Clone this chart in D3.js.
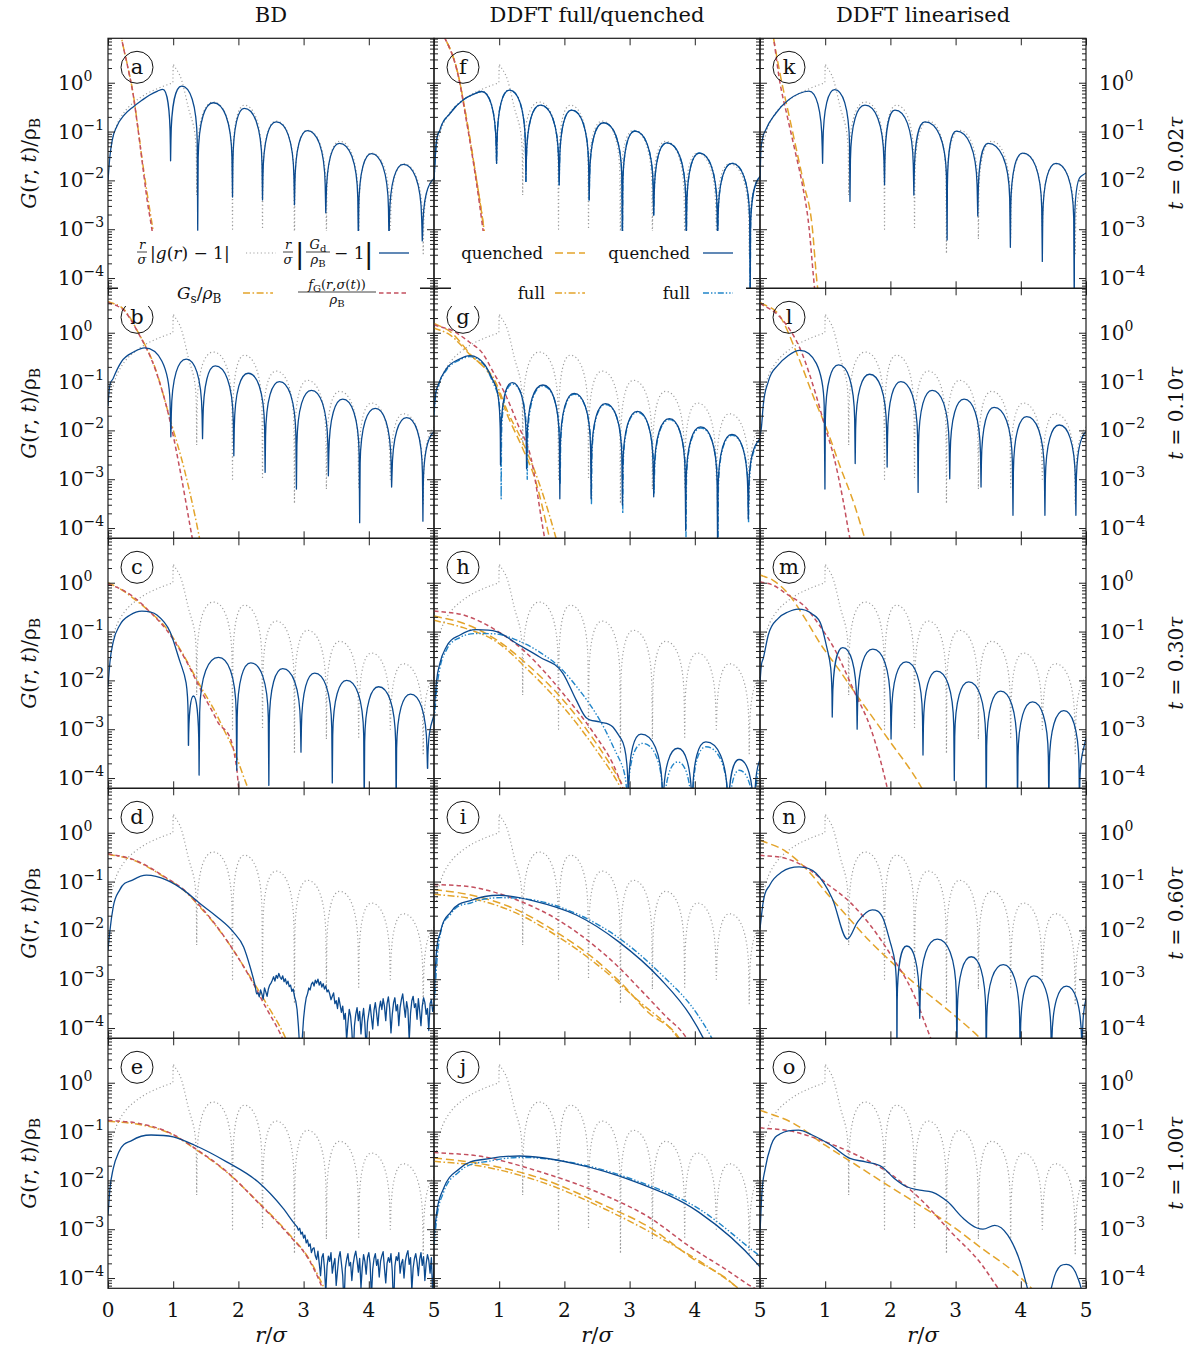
<!DOCTYPE html>
<html><head><meta charset="utf-8">
<script src="https://cdn.jsdelivr.net/npm/d3@7"></script>
<style>body{margin:0;background:#fff}svg{display:block}text{font-family:"DejaVu Serif","Liberation Serif",serif;fill:#111}</style>
</head><body><svg id="c" width="1197" height="1351"></svg>
<script>
// ---------- DATA (r/sigma, log10 of value, flag: 1 = cusp/zero crossing, 2 = corner, 3 = noisy sample) ----------
const columnTitles = ["BD", "DDFT full/quenched", "DDFT linearised"];
const timeLabels = ["0.02", "0.10", "0.30", "0.60", "1.00"];
const panelLetters = ["a","b","c","d","e","f","g","h","i","j","k","l","m","n","o"];
const xTickValues = [0,1,2,3,4,5];
const yTickExponents = [0,-1,-2,-3,-4];

// r |g(r)-1| (grey dotted, same in every panel)
const gDotted = [[0.04,-1.4],[0.06,-1.22],[0.1,-1],[0.15,-0.82],[0.2,-0.7],[0.3,-0.52],[0.4,-0.4],[0.5,-0.3],[0.6,-0.22],[0.7,-0.155],[0.8,-0.097],[0.9,-0.046],[0.995,0,2],[1.0,0.38,2],[1.13,0.05],[1.23,-0.5],[1.36,-2.3,1],[1.615,-0.395],[1.91,-3.0,1],[2.09,-0.46],[2.37,-3.0,1],[2.58,-0.785],[2.86,-3.5,1],[3.06,-0.975],[3.35,-3.2,1],[3.55,-1.2],[3.845,-3.2,1],[4.04,-1.44],[4.33,-3.0,1],[4.53,-1.66],[4.835,-3.5,1],[5.03,-1.9],[5.1,-1.85]];

// ---- BD column ----
const aBlue = [[0.0,-2.0],[0.03,-1.5],[0.066,-1.17],[0.133,-0.9],[0.25,-0.66],[0.39,-0.49],[0.52,-0.36],[0.64,-0.25],[0.76,-0.17],[0.84,-0.135],[0.96,-1.6,1],[1.13,-0.07],[1.376,-3.02,1],[1.615,-0.41],[1.91,-2.34,1],[2.09,-0.525],[2.37,-2.4,1],[2.58,-0.80],[2.86,-2.5,1],[3.057,-0.98],[3.34,-2.66,1],[3.55,-1.24],[3.84,-3.3,1],[4.04,-1.45],[4.31,-3.3,1],[4.53,-1.67],[4.82,-3.24,1],[5.0,-1.96],[5.05,-1.9]];
const aOrange = [[0.1,1.9],[0.21,0.906],[0.3,0.35],[0.389,-0.25],[0.46,-0.93],[0.532,-1.65],[0.61,-2.35],[0.69,-3.02],[0.78,-3.9],[0.85,-4.6]];
const aRed = [[0.1,1.9],[0.21,0.9],[0.3,0.34],[0.389,-0.27],[0.46,-0.95],[0.532,-1.7],[0.6,-2.4],[0.675,-3.02],[0.76,-3.9],[0.83,-4.6]];

const bBlue = [[0.0,-1.5],[0.02,-1.15],[0.078,-0.94],[0.207,-0.59],[0.40,-0.39],[0.56,-0.31],[0.964,-2.13,1],[1.2,-0.54],[1.45,-2.17,1],[1.644,-0.68],[1.93,-2.52,1],[2.15,-0.83],[2.41,-2.86,1],[2.63,-1.0],[2.89,-3.2,1],[3.12,-1.18],[3.38,-2.93,1],[3.6,-1.36],[3.86,-3.89,1],[4.1,-1.55],[4.35,-3.16,1],[4.58,-1.74],[4.83,-3.86,1],[5.0,-2.03],[5.05,-1.98]];
const bOrange = [[0,0.64],[0.25,0.47],[0.47,-0.01],[0.725,-0.73],[0.95,-1.76],[1.18,-2.85],[1.385,-4.08],[1.5,-4.9]];
const bRed = [[0,0.62],[0.25,0.45],[0.47,-0.02],[0.725,-0.75],[0.95,-1.8],[1.11,-2.85],[1.275,-4.08],[1.4,-5]];

const cBlue = [[0.0,-2.13],[0.03,-1.62],[0.08,-1.21],[0.18,-0.87],[0.34,-0.66],[0.52,-0.58],[0.75,-0.66],[0.95,-1.0],[1.105,-1.62],[1.233,-3.33,1],[1.31,-2.32],[1.397,-3.94,1],[1.694,-1.53],[1.975,-3.84,1],[2.19,-1.64],[2.467,-4.15,1],[2.68,-1.76],[2.96,-3.47,1],[3.17,-1.85],[3.44,-4.1,1],[3.66,-2.0],[3.93,-4.6,1],[4.15,-2.13],[4.42,-4.6,1],[4.64,-2.28],[4.9,-3.8,1],[5.0,-2.71],[5.05,-2.5]];
const cOrange = [[0,0.0],[0.18,-0.12],[0.39,-0.32],[0.645,-0.6],[0.9,-0.94],[1.157,-1.48],[1.41,-2.1],[1.67,-2.71],[1.77,-2.99],[1.92,-3.4],[2.13,-4.15],[2.3,-4.7]];
const cRed = [[0,-0.03],[0.18,-0.12],[0.39,-0.29],[0.645,-0.6],[0.9,-0.97],[1.157,-1.5],[1.464,-2.3],[1.67,-2.82],[1.975,-3.81],[2.0,-4.15],[2.1,-4.7]];

const dBlue = [[0.0,-2.4],[0.03,-2.0],[0.08,-1.52],[0.18,-1.17],[0.39,-0.96],[0.59,-0.87],[0.9,-0.97],[1.156,-1.17],[1.41,-1.45],[1.67,-1.72],[1.92,-2.03],[2.08,-2.34],[2.18,-2.75],[2.26,-3.16],[2.28,-3.3]];
const noiseStep = 0.02;
const dNoiseStart = 2.30;
const dNoise = [-3.28,-3.36,-3.22,-3.30,-3.41,-3.18,-3.26,-3.35,-3.20,-3.12,
 -3.08,-3.02,-2.95,-3.04,-2.92,-2.98,-2.88,-2.96,-3.00,-2.93,-3.05,-2.99,-3.10,-3.04,-3.15,
 -3.12,-3.25,-3.20,-3.35,-3.45,-3.62,
 -3.95,-4.40,-4.70,-4.20,-3.80,
 -3.55,-3.38,-3.30,-3.18,-3.22,-3.10,
 -3.06,-3.14,-3.02,-3.08,-3.00,-3.12,-3.05,-3.16,-3.09,-3.20,-3.14,-3.26,-3.22,
 -3.30,-3.42,-3.35,-3.28,-3.50,-3.44,-3.60,-3.38,-3.52,-3.68,
 -3.55,-3.82,-3.70,-4.25,-3.90,-3.62,-3.75,-4.05,-4.60,-3.95,-3.72,-3.58,-3.85,-3.66,-4.12,-3.80,-3.60,-3.92,-4.45,-3.88,-3.70,-3.52,-3.78,-4.02,-3.64,-3.48,-3.70,-3.95,-3.60,-3.45,
 -3.62,-3.40,-3.55,-3.85,-3.50,-3.36,-3.60,-4.10,-3.72,-3.48,-3.38,-3.65,-3.52,-3.95,-3.58,-3.42,-3.30,-3.55,-3.78,-3.46,-3.62,-4.25,-3.70,-3.44,-3.35,-3.58,-3.50,-3.82,-3.40,-3.65,-3.95,-3.55,-3.38,-3.48,-3.72,-3.60,-4.05,-3.50,-3.42,-3.66,-3.55];
const dOrange = [[0,-0.44],[0.39,-0.56],[0.9,-0.94],[1.156,-1.17],[1.41,-1.52],[1.67,-1.93],[1.92,-2.4],[2.18,-2.95],[2.43,-3.5],[2.69,-4.11],[2.85,-4.6]];
const dRed = [[0,-0.43],[0.39,-0.55],[0.9,-0.93],[1.156,-1.16],[1.41,-1.5],[1.67,-1.92],[1.92,-2.4],[2.18,-2.97],[2.43,-3.6],[2.64,-4.11],[2.8,-4.6]];

const eBlue = [[0.0,-2.71],[0.03,-2.17],[0.08,-1.76],[0.17,-1.41],[0.37,-1.18],[0.66,-1.07],[1.0,-1.11],[1.33,-1.28],[1.82,-1.62],[2.3,-2.03],[2.69,-2.58],[2.88,-2.92]];
const eNoiseStart = 2.90;
const eNoise = [-2.95,-3.02,-2.98,-3.10,-3.06,-3.18,-3.12,-3.28,-3.22,-3.35,-3.30,-3.48,-3.40,-3.38,-3.55,
 -3.62,-3.45,-3.70,-3.95,-3.58,-3.50,-3.80,-4.30,-3.75,-3.55,
 -3.66,-3.48,-3.90,-3.72,-3.60,-4.15,-3.85,-3.58,-3.46,-3.70,
 -3.95,-4.55,-3.80,-3.62,-3.50,-3.75,-3.68,-4.05,-3.72,-3.55,
 -3.45,-3.64,-3.88,-3.60,-4.20,-3.78,-3.52,-3.66,-3.92,-3.58,
 -3.48,-3.70,-4.40,-3.82,-3.60,-3.50,-3.74,-3.62,-3.98,-3.66,
 -3.54,-3.46,-3.80,-4.10,-3.70,-3.58,-3.68,-3.50,-3.86,-4.60,
 -3.76,-3.56,-3.64,-3.48,-3.90,-3.70,-3.62,-4.00,-3.66,-3.52,
 -3.44,-3.72,-3.58,-4.25,-3.80,-3.60,-3.50,-3.68,-3.95,-3.62,
 -3.48,-3.74,-3.56,-4.05,-3.70,-3.52,-3.64,-3.90,-3.58,-4.35,-3.70];
const eOrange = [[0,-0.79],[0.46,-0.85],[1.0,-1.07],[1.33,-1.35],[1.82,-1.83],[2.3,-2.44],[2.79,-3.12],[3.08,-3.6],[3.27,-4.08],[3.45,-4.6]];
const eRed = [[0,-0.77],[0.46,-0.83],[1.0,-1.06],[1.33,-1.34],[1.82,-1.82],[2.3,-2.45],[2.79,-3.14],[3.08,-3.62],[3.25,-4.08],[3.4,-4.6]];

// ---- DDFT full / quenched column ----
const fBlue = [[0.0,-1.99],[0.03,-1.31],[0.09,-0.97],[0.245,-0.63],[0.45,-0.35],[0.6,-0.24],[0.73,-0.18],[0.96,-1.65,1],[1.156,-0.15],[1.41,-2.02,1],[1.63,-0.46],[1.92,-2.09,1],[2.11,-0.56],[2.38,-2.4,1],[2.6,-0.82],[2.89,-3.3,1],[3.08,-0.99],[3.37,-2.71,1],[3.57,-1.23],[3.87,-3.3,1],[4.07,-1.44],[4.35,-3.3,1],[4.57,-1.65],[4.85,-4.6,1],[5.0,-1.92],[5.05,-1.85]];
const fOrange = [[0.1,1.05],[0.17,0.9],[0.37,0.17],[0.5,-0.75],[0.63,-1.8],[0.767,-3.01],[0.85,-3.9]];
const fRed = [[0.1,1.05],[0.17,0.9],[0.37,0.15],[0.5,-0.8],[0.63,-1.86],[0.76,-3.1],[0.84,-3.95]];

const gBlueQ = [[0.0,-1.62],[0.02,-1.3],[0.065,-1.07],[0.194,-0.73],[0.39,-0.54],[0.55,-0.47],[0.78,-0.66],[0.94,-1.07],[1.02,-2.71,1],[1.2,-1.02],[1.42,-2.78,1],[1.67,-1.07],[1.93,-3.4,1],[2.15,-1.24],[2.41,-3.4,1],[2.63,-1.45],[2.89,-3.53,1],[3.12,-1.61],[3.37,-3.36,1],[3.61,-1.76],[3.86,-4.05,1],[4.09,-1.93],[4.35,-4.5,1],[4.57,-2.08],[4.82,-3.81,1],[5.0,-2.17],[5.05,-2.1]];
const gBlueF = [[0.0,-1.7],[0.02,-1.35],[0.065,-1.1],[0.194,-0.76],[0.39,-0.56],[0.55,-0.49],[0.78,-0.68],[0.94,-1.12],[1.03,-3.4,1],[1.2,-1.05],[1.43,-3.0,1],[1.67,-1.09],[1.935,-3.1,1],[2.15,-1.26],[2.415,-3.5,1],[2.63,-1.47],[2.895,-3.7,1],[3.12,-1.63],[3.375,-3.3,1],[3.61,-1.78],[3.865,-4.2,1],[4.09,-1.95],[4.355,-4.5,1],[4.57,-2.1],[4.825,-3.9,1],[5.0,-2.2],[5.05,-2.12]];
const gOrangeQ = [[0,0.19],[0.25,0.02],[0.55,-0.43],[0.94,-1.05],[1.13,-1.7],[1.36,-2.37],[1.55,-3.0],[1.75,-4.08],[1.85,-4.7]];
const gOrangeF = [[0,0.1],[0.25,-0.05],[0.55,-0.45],[0.94,-1.0],[1.13,-1.62],[1.36,-2.24],[1.55,-2.85],[1.845,-4.08],[1.95,-4.6]];
const gRed = [[0,0.16],[0.3,0.03],[0.55,-0.2],[0.744,-0.42],[0.906,-0.8],[1.1,-1.28],[1.29,-1.89],[1.49,-2.58],[1.68,-4.08],[1.75,-4.6]];

const hBlueQ = [[0.0,-2.68],[0.04,-2.0],[0.09,-1.65],[0.19,-1.31],[0.4,-1.07],[0.65,-0.96],[0.96,-1.0],[1.26,-1.24],[1.62,-1.52],[1.98,-1.86],[2.18,-2.4],[2.33,-2.76],[2.54,-2.85],[2.74,-2.95],[2.87,-3.2],[2.98,-5.0,1],[3.175,-3.1],[3.51,-5,1],[3.74,-3.39],[3.96,-5,1],[4.17,-3.26],[4.51,-5,1],[4.68,-3.62],[4.91,-5,1],[5.0,-3.63],[5.05,-3.5]];
const hBlueF = [[0.0,-2.9],[0.04,-2.2],[0.09,-1.75],[0.19,-1.38],[0.4,-1.12],[0.7,-1.04],[0.96,-1.05],[1.26,-1.17],[1.62,-1.42],[1.98,-1.8],[2.2,-2.15],[2.38,-2.47],[2.6,-2.95],[2.8,-3.5],[2.97,-5,1],[3.2,-3.29],[3.52,-5,1],[3.74,-3.67],[3.96,-5,1],[4.17,-3.36],[4.52,-5,1],[4.68,-3.84],[4.92,-5,1],[5.0,-3.8],[5.05,-3.7]];
const hOrangeQ = [[0,-0.68],[0.45,-0.83],[0.96,-1.17],[1.47,-1.72],[1.98,-2.4],[2.49,-3.29],[2.79,-3.91],[2.92,-4.21],[3.05,-4.6]];
const hOrangeF = [[0,-0.77],[0.45,-0.92],[0.96,-1.21],[1.47,-1.82],[1.98,-2.54],[2.49,-3.43],[2.88,-4.25],[3.0,-4.6]];
const hRed = [[0,-0.58],[0.45,-0.66],[0.96,-0.98],[1.37,-1.38],[1.72,-1.86],[1.98,-2.27],[2.23,-2.68],[2.49,-3.16],[2.74,-3.7],[2.87,-4.11],[3.0,-4.6]];

const iBlueQ = [[0.0,-3.4],[0.03,-2.57],[0.1,-2.03],[0.26,-1.62],[0.58,-1.38],[1.0,-1.28],[1.54,-1.4],[2.19,-1.69],[2.83,-2.23],[3.47,-2.99],[3.93,-3.74],[4.12,-4.18],[4.3,-4.7]];
const iBlueF = [[0.0,-3.6],[0.06,-2.4],[0.26,-1.66],[0.58,-1.43],[1.03,-1.33],[1.54,-1.38],[2.19,-1.66],[2.83,-2.15],[3.47,-2.88],[4.05,-3.74],[4.25,-4.18],[4.4,-4.6]];
const iOrangeQ = [[0,-1.16],[0.58,-1.28],[1.22,-1.55],[1.87,-2.03],[2.51,-2.64],[2.9,-3.12],[3.28,-3.67],[3.73,-4.15],[3.9,-4.5]];
const iOrangeF = [[0,-1.26],[0.58,-1.35],[1.22,-1.62],[1.87,-2.1],[2.51,-2.71],[3.15,-3.46],[3.67,-4.08],[3.85,-4.4]];
const iRed = [[0,-1.06],[0.58,-1.11],[1.22,-1.35],[1.87,-1.76],[2.51,-2.37],[2.83,-2.75],[3.15,-3.19],[3.54,-3.74],[3.86,-4.18],[4.0,-4.5]];

const jBlueQ = [[0.0,-3.12],[0.05,-2.58],[0.145,-2.17],[0.39,-1.76],[0.87,-1.55],[1.31,-1.5],[2.13,-1.65],[3.09,-2.03],[4.06,-2.65],[4.98,-3.74],[5.05,-3.85]];
const jBlueF = [[0.0,-3.3],[0.05,-2.7],[0.145,-2.25],[0.39,-1.82],[0.87,-1.6],[1.36,-1.53],[2.13,-1.64],[3.09,-2.0],[4.06,-2.58],[4.98,-3.53],[5.05,-3.6]];
const jOrangeQ = [[0,-1.54],[0.68,-1.65],[1.64,-1.96],[2.61,-2.51],[3.29,-2.95],[3.97,-3.6],[4.55,-4.08],[4.8,-4.4]];
const jOrangeF = [[0,-1.61],[0.68,-1.7],[1.64,-2.03],[2.61,-2.58],[3.58,-3.26],[4.64,-4.18],[4.8,-4.35]];
const jRed = [[0,-1.43],[0.68,-1.5],[1.64,-1.83],[2.61,-2.3],[3.29,-2.75],[3.97,-3.4],[4.45,-3.8],[4.93,-4.22],[5.05,-4.3]];

// ---- DDFT linearised column ----
const kBlue = [[0.0,-2.0],[0.01,-1.5],[0.036,-1.17],[0.087,-0.97],[0.24,-0.63],[0.44,-0.35],[0.6,-0.22],[0.75,-0.17],[0.96,-1.65,1],[1.145,-0.14],[1.38,-2.43,1],[1.61,-0.46],[1.91,-2.09,1],[2.07,-0.56],[2.36,-2.3,1],[2.53,-0.8],[2.87,-3.22,1],[3.01,-0.99],[3.34,-2.73,1],[3.5,-1.24],[3.84,-3.37,1],[4.03,-1.44],[4.33,-3.66,1],[4.54,-1.65],[4.82,-4.6,1],[4.92,-1.92],[5.0,-1.85],[5.05,-1.82]];
const kOrange = [[0.1,1.9],[0.21,0.9],[0.32,0.1],[0.45,-0.7],[0.57,-1.44],[0.67,-2.06],[0.8,-2.94],[0.875,-4.1],[0.95,-4.8]];
const kRed = [[0.1,1.9],[0.21,0.9],[0.3,0.05],[0.42,-0.7],[0.545,-1.44],[0.646,-2.06],[0.75,-2.94],[0.82,-3.97],[0.88,-4.8]];

const lBlue = [[0.0,-2.1],[0.02,-1.96],[0.05,-1.48],[0.127,-1.0],[0.28,-0.66],[0.43,-0.47],[0.61,-0.36],[0.996,-3.2,1],[1.205,-0.66],[1.46,-2.68,1],[1.68,-0.85],[1.95,-2.75,1],[2.16,-1.0],[2.425,-3.27,1],[2.64,-1.18],[2.91,-2.99,1],[3.13,-1.36],[3.39,-3.16,1],[3.59,-1.53],[3.88,-3.74,1],[4.09,-1.72],[4.37,-3.74,1],[4.59,-1.89],[4.845,-3.74,1],[5.0,-2.03],[5.05,-1.98]];
const lOrange = [[0,0.62],[0.3,0.35],[0.585,-0.49],[0.84,-1.38],[1.02,-1.96],[1.22,-2.71],[1.45,-3.53],[1.6,-4.18],[1.7,-4.6]];
const lRed = [[0,0.6],[0.3,0.33],[0.635,-0.39],[0.86,-1.28],[0.99,-1.89],[1.14,-2.58],[1.27,-3.4],[1.37,-4.15],[1.45,-4.7]];

const mBlue = [[0.0,-2.03],[0.02,-1.7],[0.05,-1.55],[0.127,-1.07],[0.28,-0.73],[0.43,-0.6],[0.585,-0.54],[0.79,-0.63],[0.94,-0.87],[1.04,-1.41],[1.108,-2.75,1],[1.27,-1.33],[1.49,-3.0,1],[1.73,-1.36],[2.01,-3.2,1],[2.24,-1.62],[2.5,-3.53,1],[2.71,-1.81],[2.98,-4.05,1],[3.2,-2.03],[3.47,-4.6,1],[3.69,-2.22],[3.95,-4.6,1],[4.18,-2.44],[4.43,-4.6,1],[4.66,-2.62],[4.9,-4.6,1],[5.0,-3.19],[5.05,-2.9]];
const mOrange = [[0,0.16],[0.2,0.05],[0.43,-0.22],[0.69,-0.73],[0.94,-1.28],[1.2,-1.76],[1.45,-2.24],[1.96,-3.19],[2.47,-4.18],[2.6,-4.5]];
const mRed = [[0,0.02],[0.2,-0.05],[0.43,-0.25],[0.69,-0.49],[0.9,-0.85],[1.14,-1.35],[1.45,-2.24],[1.7,-2.99],[1.93,-4.08],[2.0,-4.5]];

const nBlue = [[0.0,-1.96],[0.05,-1.41],[0.15,-1.07],[0.34,-0.8],[0.6,-0.7],[0.86,-0.83],[1.11,-1.35],[1.34,-2.18],[1.5,-1.82],[1.72,-1.58],[1.89,-1.76],[2.01,-2.3],[2.1,-4.6,1],[2.25,-2.32],[2.45,-3.8,1],[2.72,-2.18],[3.02,-4.6,1],[3.24,-2.54],[3.47,-4.6,1],[3.73,-2.7],[3.99,-4.6,1],[4.2,-2.93],[4.47,-4.6,1],[4.7,-3.14],[4.94,-4.6,1],[5.0,-3.4],[5.05,-3.1]];
const nOrange = [[0,-0.15],[0.405,-0.39],[0.73,-0.77],[1.05,-1.28],[1.37,-1.76],[1.69,-2.23],[2.01,-2.64],[2.34,-3.05],[2.66,-3.39],[2.98,-3.74],[3.3,-4.11],[3.45,-4.3]];
const nRed = [[0,-0.46],[0.405,-0.53],[0.73,-0.73],[1.05,-1.07],[1.37,-1.41],[1.69,-1.89],[2.01,-2.51],[2.34,-3.26],[2.59,-4.11],[2.7,-4.5]];

const oBlue = [[0.0,-3.06],[0.03,-2.24],[0.08,-1.76],[0.17,-1.28],[0.32,-1.04],[0.59,-0.97],[0.8,-1.07],[1.09,-1.28],[1.38,-1.55],[1.62,-1.62],[1.87,-1.72],[2.06,-1.96],[2.25,-2.13],[2.45,-2.2],[2.64,-2.24],[2.88,-2.44],[3.12,-2.78],[3.32,-2.97],[3.42,-3.0],[3.6,-2.92],[3.8,-3.12],[3.99,-3.67],[4.12,-4.3],[4.28,-6,1],[4.45,-4.3],[4.52,-3.95],[4.7,-3.72],[4.86,-3.95],[4.95,-4.4],[5.05,-6]];
const oOrange = [[0,-0.56],[0.51,-0.83],[1.0,-1.28],[1.48,-1.69],[1.96,-2.1],[2.45,-2.51],[2.93,-2.92],[3.41,-3.4],[3.9,-3.88],[4.09,-4.11],[4.3,-4.4]];
const oRed = [[0,-0.92],[0.51,-1.0],[1.0,-1.21],[1.48,-1.48],[1.96,-1.83],[2.45,-2.37],[2.93,-3.06],[3.41,-3.74],[3.6,-4.11],[3.75,-4.4]];

// ---------- STYLES ----------
const ST = {
  dot:    {stroke:"#9b9b9b", w:1.2, dash:"1.1,2.6"},
  blue:   {stroke:"#0b4a8f", w:1.3, dash:null},
  blueF:  {stroke:"#2185c9", w:1.4, dash:"6,2,1.4,2,1.4,2"},
  orQ:    {stroke:"#e3a42b", w:1.5, dash:"8,4"},
  orF:    {stroke:"#e3a42b", w:1.5, dash:"7,2.5,1.6,2.5"},
  red:    {stroke:"#c4505f", w:1.5, dash:"4.5,3"}
};

function withNoise(base, start, vals){
  return base.concat(vals.map((v,i)=>[start+i*noiseStep, v, 3]));
}

const panels = [
  {row:0,col:0,curves:[[aOrange,"orF"],[aRed,"red"],[aBlue,"blue"]]},
  {row:1,col:0,curves:[[bOrange,"orF"],[bRed,"red"],[bBlue,"blue"]]},
  {row:2,col:0,curves:[[cOrange,"orF"],[cRed,"red"],[cBlue,"blue"]]},
  {row:3,col:0,curves:[[dOrange,"orF"],[dRed,"red"],[withNoise(dBlue,dNoiseStart,dNoise),"blue"]]},
  {row:4,col:0,curves:[[eOrange,"orF"],[eRed,"red"],[withNoise(eBlue,eNoiseStart,eNoise),"blue"]]},
  {row:0,col:1,curves:[[fOrange,"orQ"],[fOrange,"orF"],[fRed,"red"],[fBlue,"blueF"],[fBlue,"blue"]]},
  {row:1,col:1,curves:[[gOrangeQ,"orQ"],[gOrangeF,"orF"],[gRed,"red"],[gBlueF,"blueF"],[gBlueQ,"blue"]]},
  {row:2,col:1,curves:[[hOrangeQ,"orQ"],[hOrangeF,"orF"],[hRed,"red"],[hBlueF,"blueF"],[hBlueQ,"blue"]]},
  {row:3,col:1,curves:[[iOrangeQ,"orQ"],[iOrangeF,"orF"],[iRed,"red"],[iBlueF,"blueF"],[iBlueQ,"blue"]]},
  {row:4,col:1,curves:[[jOrangeQ,"orQ"],[jOrangeF,"orF"],[jRed,"red"],[jBlueF,"blueF"],[jBlueQ,"blue"]]},
  {row:0,col:2,curves:[[kOrange,"orQ"],[kRed,"red"],[kBlue,"blue"]]},
  {row:1,col:2,curves:[[lOrange,"orQ"],[lRed,"red"],[lBlue,"blue"]]},
  {row:2,col:2,curves:[[mOrange,"orQ"],[mRed,"red"],[mBlue,"blue"]]},
  {row:3,col:2,curves:[[nOrange,"orQ"],[nRed,"red"],[nBlue,"blue"]]},
  {row:4,col:2,curves:[[oOrange,"orQ"],[oRed,"red"],[oBlue,"blue"]]}
];

// ---------- LAYOUT ----------
const COLS=[108,434,760], PW=326, PH=250, TOP0=38.3, LGMIN=-4.21, LGMAX=0.91;
const svg=d3.select("#c");
const defs=svg.append("defs");

function buildPath(P){
  const n=P.length, mL=new Array(n).fill(0), mR=new Array(n).fill(0);
  const Z=i=>P[i].f===1;
  const sec=(i,j)=>(P[j].y-P[i].y)/(P[j].x-P[i].x);
  for(let i=0;i<n;i++){
    if(Z(i)) continue;
    const pO=i>0&&!Z(i-1), nO=i<n-1&&!Z(i+1);
    let m=0;
    if(P[i].f===2){ mL[i]=pO?sec(i-1,i):0; mR[i]=nO?sec(i,i+1):0; continue; }
    if(pO&&nO){
      const s0=sec(i-1,i), s1=sec(i,i+1);
      if(s0*s1<=0) m=0; else {
        const h0=P[i].x-P[i-1].x, h1=P[i+1].x-P[i].x;
        m=(s0*h1+s1*h0)/(h0+h1);
        const lim=3*Math.min(Math.abs(s0),Math.abs(s1));
        if(Math.abs(m)>lim) m=Math.sign(m)*lim;
      }
    } else if(pO){ m=(i===n-1)?sec(i-1,i):(P[i-1].y>P[i].y?0:sec(i-1,i)); }
    else if(nO){ m=(i===0)?sec(i,i+1):(P[i+1].y>P[i].y?0:sec(i,i+1)); }
    mL[i]=mR[i]=m;
  }
  const f=v=>v.toFixed(2);
  let d=`M${f(P[0].x)},${f(P[0].y)}`;
  for(let i=0;i<n-1;i++){
    const p=P[i], q=P[i+1];
    if(p.f===3||q.f===3){ d+=`L${f(q.x)},${f(q.y)}`; continue; }
    if(!Z(i)&&!Z(i+1)){
      const dx=q.x-p.x;
      d+=`C${f(p.x+dx/3)},${f(p.y+mR[i]*dx/3)} ${f(q.x-dx/3)},${f(q.y-mL[i+1]*dx/3)} ${f(q.x)},${f(q.y)}`;
    } else if(!Z(i)&&Z(i+1)){
      const dx=q.x-p.x, K=Math.min(55,q.y-p.y), m=mR[i];
      if(K<=1){ d+=`L${f(q.x)},${f(q.y)}`; continue; }
      let t=0.5*dx; if(Math.abs(m)>1e-6) t=Math.min(t,0.3*K/Math.abs(m));
      const c1x=p.x+t, c1y=p.y+m*t;
      const c2x=Math.max(c1x,q.x-0.07*dx), c2y=p.y+0.3*K;
      d+=`C${f(c1x)},${f(c1y)} ${f(c2x)},${f(c2y)} ${f(q.x-0.03*dx)},${f(p.y+K)}L${f(q.x)},${f(q.y)}`;
    } else if(Z(i)&&!Z(i+1)){
      const dx=q.x-p.x, K=Math.min(55,p.y-q.y), m=mL[i+1];
      if(K<=1){ d+=`L${f(q.x)},${f(q.y)}`; continue; }
      let t=0.5*dx; if(Math.abs(m)>1e-6) t=Math.min(t,0.3*K/Math.abs(m));
      const cpx=q.x-t, cpy=q.y-m*t;
      const cax=Math.min(cpx,p.x+0.07*dx), cay=q.y+0.3*K;
      d+=`L${f(p.x+0.03*dx)},${f(q.y+K)}C${f(cax)},${f(cay)} ${f(cpx)},${f(cpy)} ${f(q.x)},${f(q.y)}`;
    } else d+=`L${f(q.x)},${f(q.y)}`;
  }
  return d;
}

function styleLine(sel, s){
  sel.attr("fill","none").attr("stroke",s.stroke).attr("stroke-width",s.w)
     .attr("stroke-linejoin","round").attr("stroke-linecap","butt");
  if(s.dash) sel.attr("stroke-dasharray",s.dash);
  return sel;
}

const scalesFor=(row,col)=>{
  const x0=COLS[col], y0=TOP0+row*PH;
  return {x0,y0,
    x:d3.scaleLinear().domain([0,5]).range([x0,x0+PW]),
    y:d3.scaleLog().domain([Math.pow(10,LGMIN),Math.pow(10,LGMAX)]).range([y0+PH,y0])};
};

const minorTicks=[];
for(let k=-5;k<=0;k++) for(let m=2;m<=9;m++){ const v=m*Math.pow(10,k); if(Math.log10(v)>LGMIN&&Math.log10(v)<LGMAX) minorTicks.push(v); }
const majorTicks=yTickExponents.map(k=>Math.pow(10,k));

panels.forEach((p,pi)=>{
  const S=scalesFor(p.row,p.col);
  const g=svg.append("g");
  const cid="clip"+pi;
  defs.append("clipPath").attr("id",cid).append("rect").attr("x",S.x0).attr("y",S.y0).attr("width",PW).attr("height",PH);
  const cg=g.append("g").attr("clip-path",`url(#${cid})`);
  const toPts=data=>data.map(d=>({x:S.x(d[0]),y:S.y(Math.pow(10,d[1])),f:d[2]||0}));
  styleLine(cg.append("path").attr("d",buildPath(toPts(gDotted))),ST.dot);
  p.curves.forEach(([data,st])=>{ styleLine(cg.append("path").attr("d",buildPath(toPts(data))),ST[st]); });

  const ax=g.append("g").attr("class","ax");
  const mk=(axis,tr)=>{ const a=ax.append("g").attr("transform",tr).call(axis); a.select(".domain").remove(); a.selectAll("text").remove(); a.selectAll("line").attr("stroke","#222").attr("stroke-width",1); };
  mk(d3.axisBottom(S.x).tickValues(xTickValues).tickSizeInner(-7).tickSizeOuter(0),`translate(0,${S.y0+PH})`);
  mk(d3.axisTop(S.x).tickValues(xTickValues).tickSizeInner(-7).tickSizeOuter(0),`translate(0,${S.y0})`);
  mk(d3.axisLeft(S.y).tickValues(majorTicks).tickSizeInner(-7).tickSizeOuter(0),`translate(${S.x0},0)`);
  mk(d3.axisLeft(S.y).tickValues(minorTicks).tickSizeInner(-4).tickSizeOuter(0),`translate(${S.x0},0)`);
  mk(d3.axisRight(S.y).tickValues(majorTicks).tickSizeInner(-7).tickSizeOuter(0),`translate(${S.x0+PW},0)`);
  mk(d3.axisRight(S.y).tickValues(minorTicks).tickSizeInner(-4).tickSizeOuter(0),`translate(${S.x0+PW},0)`);
  g.append("rect").attr("x",S.x0).attr("y",S.y0).attr("width",PW).attr("height",PH).attr("fill","none").attr("stroke","#1a1a1a").attr("stroke-width",1.2);

  const cx=S.x0+29, cy=S.y0+29;
  g.append("circle").attr("cx",cx).attr("cy",cy).attr("r",16).attr("fill","none").attr("stroke","#111").attr("stroke-width",1);
  g.append("text").attr("x",cx).attr("y",cy+6.5).attr("text-anchor","middle").attr("font-size",21).text(panelLetters[p.col*5+p.row]);

  if(p.col===0||p.col===2){
    yTickExponents.forEach(k=>{
      const yy=S.y(Math.pow(10,k))+7;
      const t=g.append("text").attr("font-size",20).attr("y",yy).attr("x",p.col===0?58:1099);
      t.append("tspan").text("10");
      t.append("tspan").attr("font-size",14).attr("dy",-9).text(k===0?"0":"\u2212"+(-k));
    });
  }
  if(p.row===4){
    xTickValues.forEach(v=>{
      if(v===0&&p.col>0) return;
      g.append("text").attr("x",S.x(v)).attr("y",S.y0+PH+29).attr("text-anchor","middle").attr("font-size",20).text(v);
    });
    const xl=g.append("text").attr("x",S.x0+PW/2).attr("y",S.y0+PH+54).attr("text-anchor","middle").attr("font-size",21);
    xl.append("tspan").attr("font-style","italic").text("r");
    xl.append("tspan").text("/");
    xl.append("tspan").attr("font-style","italic").text("\u03c3");
  }
  if(p.col===0){
    const yl=g.append("text").attr("transform",`translate(36,${S.y0+PH/2}) rotate(-90)`).attr("text-anchor","middle").attr("font-size",20);
    yl.append("tspan").attr("font-style","italic").text("G");
    yl.append("tspan").text("(");
    yl.append("tspan").attr("font-style","italic").text("r");
    yl.append("tspan").text(", ");
    yl.append("tspan").attr("font-style","italic").text("t");
    yl.append("tspan").text(")/\u03c1");
    yl.append("tspan").attr("font-size",14).attr("dy",4).text("B");
  }
  if(p.col===2){
    const rl=g.append("text").attr("transform",`translate(1183,${S.y0+PH/2}) rotate(-90)`).attr("text-anchor","middle").attr("font-size",20);
    rl.append("tspan").attr("font-style","italic").text("t");
    rl.append("tspan").text(" = "+timeLabels[p.row]);
    rl.append("tspan").attr("font-style","italic").text("\u03c4");
  }
});

columnTitles.forEach((t,i)=>{
  svg.append("text").attr("x",COLS[i]+PW/2).attr("y",22).attr("text-anchor","middle").attr("font-size",21).text(t);
});

// ---------- LEGENDS ----------
const lg=svg.append("g");
lg.append("rect").attr("x",118).attr("y",231).attr("width",302).attr("height",75).attr("fill","#fff");
lg.append("rect").attr("x",451).attr("y",231).attr("width",295).attr("height",75).attr("fill","#fff");
function sample(x1,x2,y,s){ styleLine(lg.append("line").attr("x1",x1).attr("x2",x2).attr("y1",y).attr("y2",y),s); }
function frac(cx,ybar,w,numFn,denFn,fs){
  const n=lg.append("text").attr("x",cx).attr("y",ybar-3).attr("text-anchor","middle").attr("font-size",fs); numFn(n);
  lg.append("line").attr("x1",cx-w/2).attr("x2",cx+w/2).attr("y1",ybar).attr("y2",ybar).attr("stroke","#111").attr("stroke-width",0.8);
  const d=lg.append("text").attr("x",cx).attr("y",ybar+fs-1).attr("text-anchor","middle").attr("font-size",fs); denFn(d);
}
const it=(t,s)=>t.append("tspan").attr("font-style","italic").text(s);
const rm=(t,s)=>t.append("tspan").text(s);
const sub=(t,s,fs)=>t.append("tspan").attr("font-size",fs).attr("dy",4).text(s);
frac(142,252,10,t=>it(t,"r"),t=>it(t,"\u03c3"),13);
{ const t=lg.append("text").attr("x",150).attr("y",259).attr("font-size",17);
  rm(t,"|"); it(t,"g"); rm(t,"("); it(t,"r"); rm(t,") \u2212 1|"); }
sample(246,276,253,ST.dot);
frac(288,252,10,t=>it(t,"r"),t=>it(t,"\u03c3"),13);
lg.append("text").attr("x",295).attr("y",263).attr("font-size",28).text("|");
frac(318,252,24,t=>{it(t,"G");t.append("tspan").attr("font-size",10).attr("dy",3).text("d");},t=>{it(t,"\u03c1");t.append("tspan").attr("font-size",10).attr("dy",3).text("B");},13);
lg.append("text").attr("x",334).attr("y",259).attr("font-size",17).text("\u2212 1");
lg.append("text").attr("x",364).attr("y",263).attr("font-size",28).text("|");
sample(379,409,253,ST.blue);
{ const t=lg.append("text").attr("x",177).attr("y",299).attr("font-size",17);
  it(t,"G"); sub(t,"s",12); t.append("tspan").attr("dy",-4).text("/"); it(t,"\u03c1"); sub(t,"B",12); }
sample(243,273,293,ST.orF);
frac(337,292,78,t=>{it(t,"f");t.append("tspan").attr("font-size",10).attr("dy",3).text("G");t.append("tspan").attr("dy",-3).text("(");it(t,"r");rm(t,",");it(t,"\u03c3");rm(t,"(");it(t,"t");rm(t,"))");},
  t=>{it(t,"\u03c1");t.append("tspan").attr("font-size",10).attr("dy",3).text("B");},13);
sample(379,409,293,ST.red);
lg.append("text").attr("x",543).attr("y",259).attr("text-anchor","end").attr("font-size",16.5).text("quenched");
sample(555,585,253,ST.orQ);
lg.append("text").attr("x",690).attr("y",259).attr("text-anchor","end").attr("font-size",16.5).text("quenched");
sample(703,733,253,ST.blue);
lg.append("text").attr("x",545).attr("y",299).attr("text-anchor","end").attr("font-size",16.5).text("full");
sample(555,585,293,ST.orF);
lg.append("text").attr("x",690).attr("y",299).attr("text-anchor","end").attr("font-size",16.5).text("full");
sample(703,733,293,ST.blueF);
</script></body></html>
